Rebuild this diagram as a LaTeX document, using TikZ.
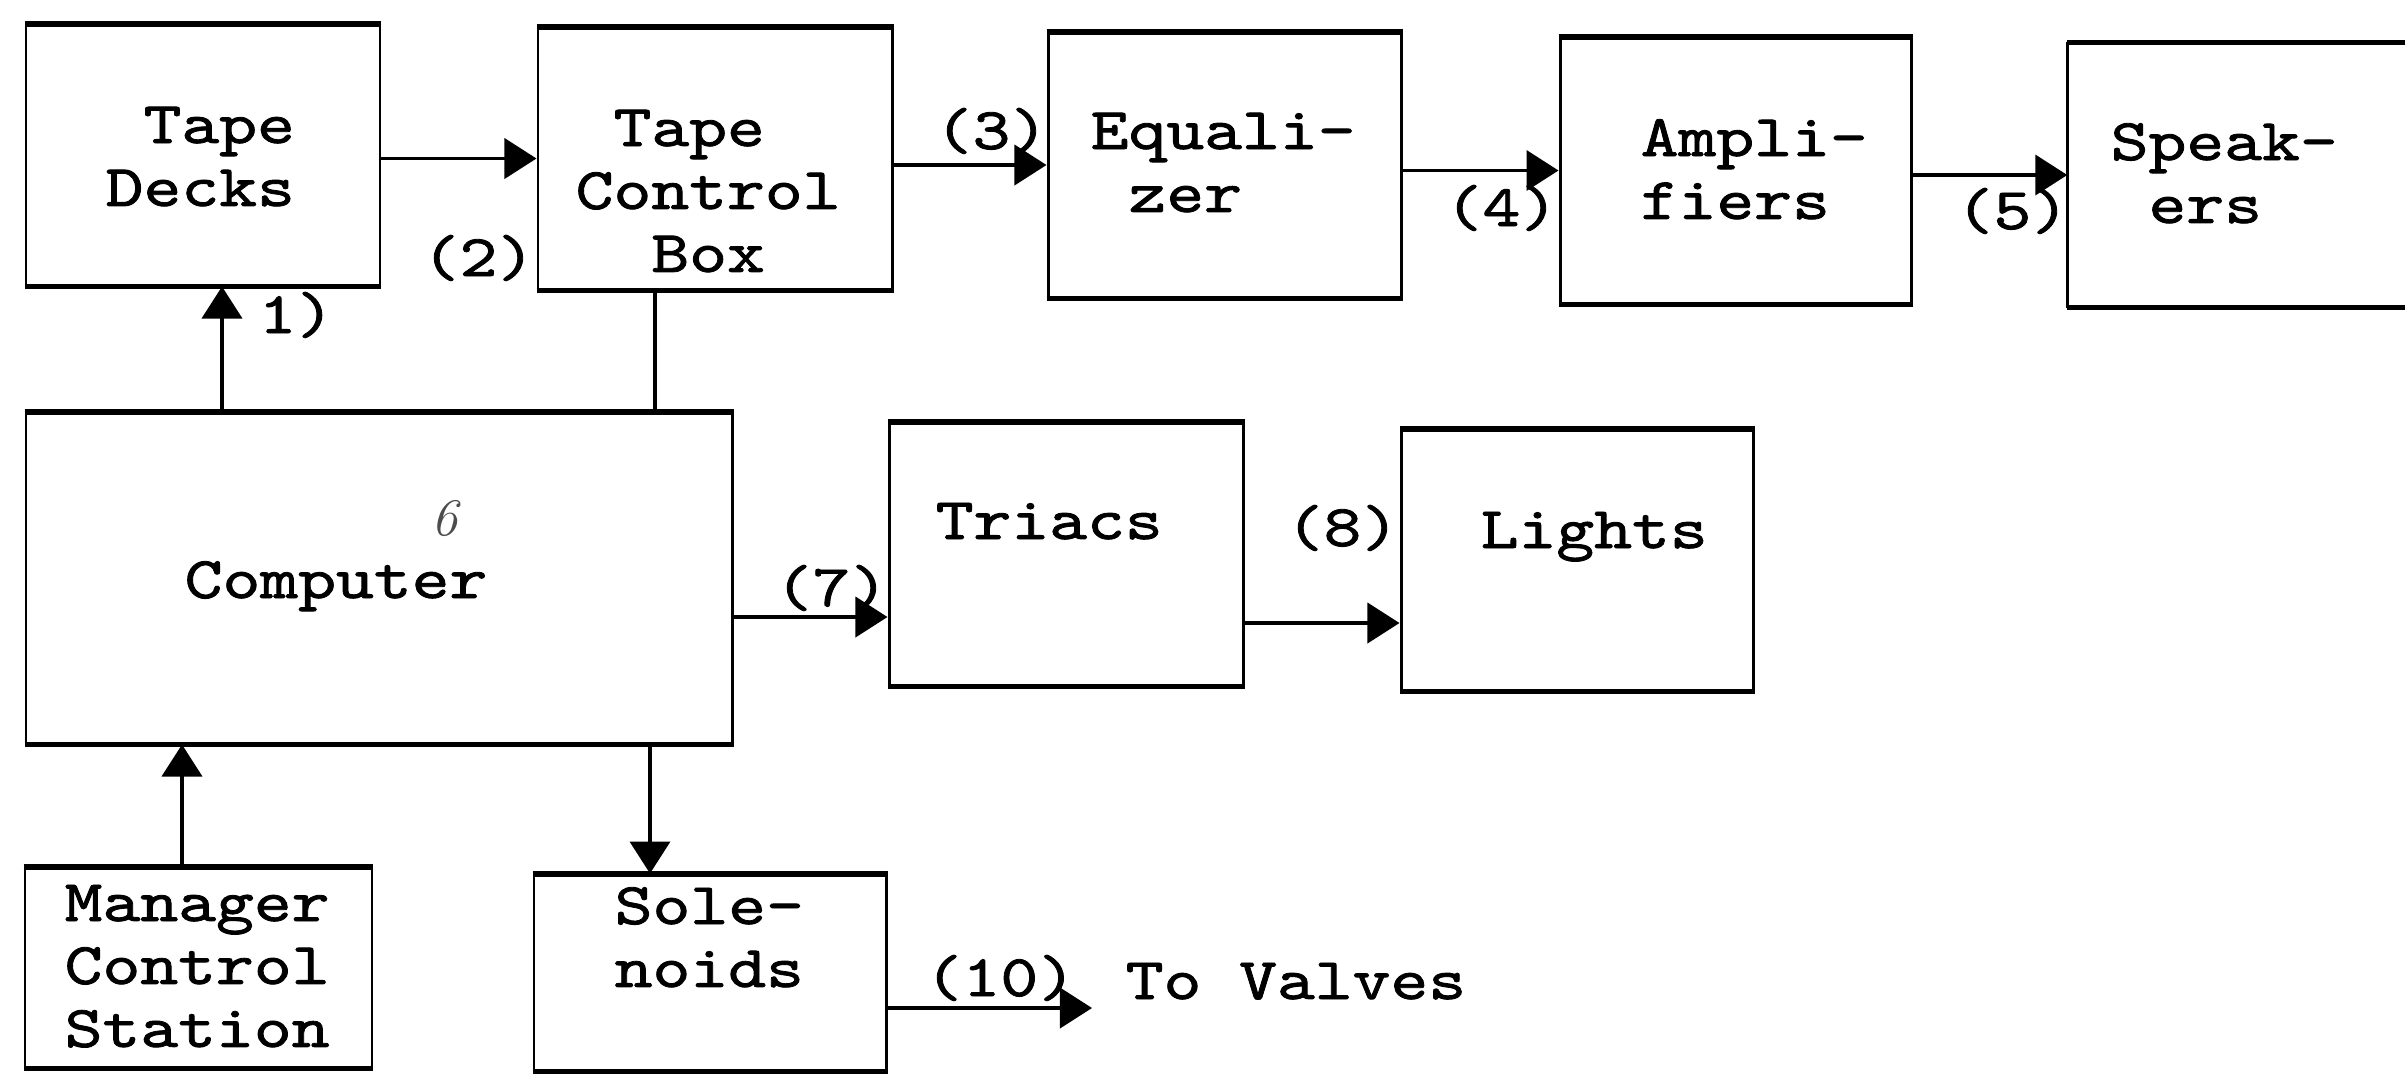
\documentclass[tikz,border=0pt]{standalone}
\usepackage{fontspec}
\usetikzlibrary{arrows.meta,fit}
\newfontfamily\tw{lmmono10-regular}[Extension=.otf, FakeStretch=1.22, FakeBold=1.4]
\newcommand\msp{\hphantom{0}}
\newcommand\lines[1]{\begin{tabular}[t]{@{}l@{}}#1\end{tabular}}
\begin{document}
\begin{tikzpicture}[x=0.01cm,y=-0.01cm,
  box/.style={draw, line width=0.85pt, inner sep=0pt},
  hedge/.style={line width=1.4pt},
  txt/.style={anchor=base west, inner sep=0pt, font=\tw\fontsize{16.8}{17.9}\selectfont},
  conn/.style={line width=1.1pt},
  arr/.style={conn, -{Triangle[length=0.32cm,width=0.4cm]}}]
\useasboundingbox (0,0) rectangle (2405,1075);

% boxes
\node[box, fit={(26,25) (380,285)}] (tape) {};
\node[box, fit={(538,28) (892,289)}] (tcb) {};
\node[box, fit={(1048,33) (1401,297)}] (eq) {};
\node[box, fit={(1560,38) (1911,303)}] (amp) {};
\node[inner sep=0pt, fit={(2068,43) (2405,307)}] (spk) {};
\node[box, fit={(26,413) (732,743)}] (comp) {};
\node[box, fit={(889,423) (1243,685)}] (tri) {};
\node[box, fit={(1401,430) (1753,690)}] (li) {};
\node[box, fit={(25,868) (372,1067)}] (mgr) {};
\node[box, fit={(534,875) (886,1070)}] (sol) {};

\foreach \n in {tape,tcb,eq,amp,comp,tri,li,mgr,sol}
  \draw[hedge] (\n.north west) -- (\n.north east) (\n.south west) -- (\n.south east);
\draw[hedge] (spk.north east) -- (spk.north west);
\draw[line width=0.85pt] (spk.north west) -- (spk.south west);
\draw[hedge] (spk.south west) -- (spk.south east);

% box texts
\node[txt] (tapeT) at (105,143) {\lines{\msp Tape\\Decks}};
\node[txt] (tcbT) at (575,146) {\lines{\msp Tape\\Control\\\msp\msp Box}};
\node[txt] (eqT) at (1090,149) {\lines{Equali-\\\msp zer}};
\node[txt] (ampT) at (1640,156) {\lines{Ampli-\\fiers}};
\node[txt] (spkT) at (2110,160) {\lines{Speak-\\\msp ers}};
\node[txt] (compT) at (184,598) {Computer};
\node[txt] (triT) at (935,539) {Triacs};
\node[txt] (liT) at (1480,548) {Lights};
\node[txt] (mgrT) at (64,921) {\lines{Manager\\Control\\Station}};
\node[txt] (solT) at (614,924) {\lines{Sole-\\noids}};
\node[txt] (valT) at (1125,999) {To\msp Valves};
\node[font=\itshape\fontsize{15}{15}\selectfont, text=black!70, inner sep=0pt] (six) at (445,519) {6};

% connector labels
\node[txt] (l1) at (258,333) {1)};
\node[txt] (l2) at (421,276) {(2)};
\node[txt] (l3) at (934,149) {(3)};
\node[txt] (l4) at (1444,226) {(4)};
\node[txt] (l5) at (1955,229) {(5)};
\node[txt] (l7) at (774,606) {(7)};
\node[txt] (l8) at (1285,546) {(8)};
\node[txt] (l10) at (924,996) {(10)};

% connectors
\draw[arr] (tape.east |- tcb.west) -- (tcb.west);
\draw[arr] (tcb.east |- eq.west) -- (eq.west);
\draw[arr] (eq.east |- amp.west) -- (amp.west);
\draw[arr] (amp.east |- spk.west) -- (spk.west);
\draw[arr] (comp.north -| 222,0) -- (tape.south -| 222,0);
\draw[conn] (tcb.south -| 655,0) -- (comp.north -| 655,0);
\draw[arr] (comp.east |- 0,617) -- (tri.west |- 0,617);
\draw[arr] (tri.east |- 0,623) -- (li.west |- 0,623);
\draw[arr] (mgr.north -| 182,0) -- (comp.south -| 182,0);
\draw[arr] (comp.south -| 650,0) -- (sol.north -| 650,0);
\coordinate (valves) at (1092,1008);
\draw[arr] (sol.east |- valves) -- (valves);
\end{tikzpicture}
\end{document}
